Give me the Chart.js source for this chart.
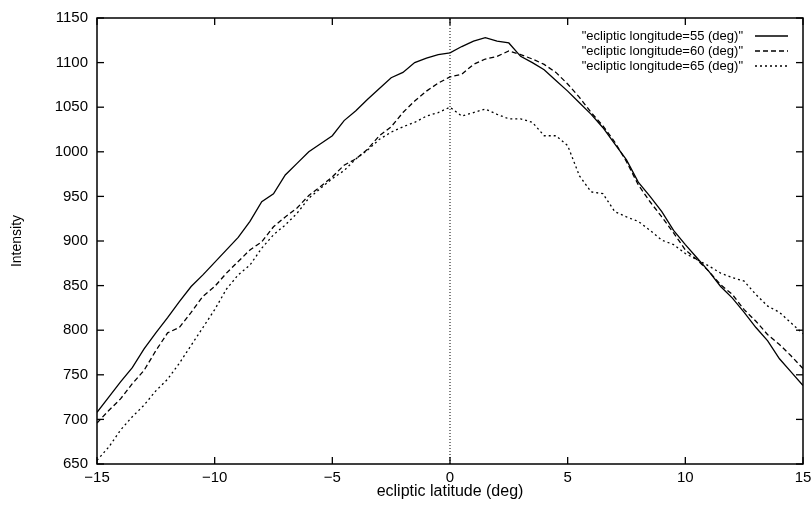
<!DOCTYPE html>
<html>
<head>
<meta charset="utf-8">
<script src="https://cdn.jsdelivr.net/npm/chart.js@4/dist/chart.umd.min.js"></script>
<style>
  html, body { margin: 0; padding: 0; background: #fff; }
  #chart { display: block; }
</style>
</head>
<body>
<canvas id="chart" width="812" height="505"></canvas>
<script>
// ecliptic latitude (deg), one sample every half degree
const latitude = [
  -15, -14.5, -14, -13.5, -13, -12.5, -12, -11.5, -11, -10.5,
  -10, -9.5, -9, -8.5, -8, -7.5, -7, -6.5, -6, -5.5,
  -5, -4.5, -4, -3.5, -3, -2.5, -2, -1.5, -1, -0.5,
  0, 0.5, 1, 1.5, 2, 2.5, 3, 3.5, 4, 4.5,
  5, 5.5, 6, 6.5, 7, 7.5, 8, 8.5, 9, 9.5,
  10, 10.5, 11, 11.5, 12, 12.5, 13, 13.5, 14, 14.5, 15
];

const lon55 = [
  708, 725, 742, 758, 779, 797, 814, 832, 849, 862,
  876, 890, 904, 922, 944, 953, 974, 987, 1000, 1009,
  1018, 1035, 1046, 1059, 1071, 1083, 1089, 1100, 1105, 1109,
  1111, 1118, 1124, 1128, 1124, 1122, 1107, 1100, 1092, 1080,
  1068, 1055, 1042, 1027, 1009, 991, 966, 950, 933, 912,
  896, 881, 866, 849, 836, 820, 803, 788, 768, 753, 738
];

const lon60 = [
  696, 710, 723, 740, 755, 777, 797, 803, 820, 838,
  849, 864, 877, 890, 899, 916, 927, 937, 951, 961,
  972, 985, 992, 1003, 1018, 1028, 1044, 1057, 1068, 1077,
  1084, 1087, 1098, 1104, 1107, 1113, 1109, 1104, 1098, 1089,
  1076, 1061, 1044, 1029, 1011, 989, 963, 944, 927, 909,
  890, 879, 866, 851, 840, 823, 810, 795, 784, 771, 757
];

const lon65 = [
  654, 669, 688, 703, 716, 732, 745, 763, 783, 803,
  823, 846, 862, 873, 892, 907, 918, 931, 948, 959,
  970, 979, 992, 1002, 1014, 1022, 1028, 1033, 1040, 1044,
  1050, 1040, 1044, 1048, 1042, 1037, 1037, 1033, 1018, 1018,
  1007, 973, 955, 953, 933, 927, 922, 912, 901, 896,
  886, 879, 872, 864, 859, 855, 840, 827, 820, 808, 796
];

const seriesNames = [
  '"ecliptic longitude=55 (deg)"',
  '"ecliptic longitude=60 (deg)"',
  '"ecliptic longitude=65 (deg)"'
];

// vertical dotted marker at latitude 0
const zeroLineX = [0, 0];
const zeroLineY = [650, 1150];

const xTicks = [-15, -10, -5, 0, 5, 10, 15];
const yTicks = [650, 700, 750, 800, 850, 900, 950, 1000, 1050, 1100, 1150];

const pts = (xs, ys) => xs.map((x, i) => ({ x: x, y: ys[i] }));
const dashes = [[], [5, 3], [2, 3]];
const FONT = '"Liberation Sans", Arial, sans-serif';

// gnuplot-like frame, inward mirrored ticks and key inside the plot
const gnuplotFrame = {
  id: 'gnuplotFrame',
  afterDatasetsDraw(chart) {
    const { ctx, chartArea: a, scales: { x, y } } = chart;
    const seg = (x1, y1, x2, y2) => { ctx.beginPath(); ctx.moveTo(x1, y1); ctx.lineTo(x2, y2); ctx.stroke(); };
    ctx.save();
    ctx.strokeStyle = '#000';
    ctx.lineWidth = 1.5;
    ctx.setLineDash([]);
    ctx.strokeRect(a.left, a.top, a.right - a.left, a.bottom - a.top);
    ctx.lineWidth = 1.3;
    x.ticks.forEach(t => {
      const px = x.getPixelForValue(t.value);
      seg(px, a.bottom, px, a.bottom - 7);
      seg(px, a.top, px, a.top + 7);
    });
    y.ticks.forEach(t => {
      const py = y.getPixelForValue(t.value);
      seg(a.left, py, a.left + 7, py);
      seg(a.right, py, a.right - 7, py);
    });

    // key
    ctx.font = '13px ' + FONT;
    ctx.fillStyle = '#000';
    ctx.textAlign = 'right';
    ctx.textBaseline = 'middle';
    seriesNames.forEach((name, i) => {
      const ky = a.top + 18 + i * 15;
      ctx.fillText(name, a.right - 60, ky);
      ctx.lineWidth = 1.3;
      ctx.setLineDash(dashes[i]);
      seg(a.right - 48, ky, a.right - 15, ky);
    });
    ctx.restore();
  }
};

const lineStyle = (label, data, dash) => ({
  label: label,
  data: data,
  borderColor: '#000',
  borderWidth: 1.3,
  borderDash: dash,
  pointRadius: 0,
  fill: false,
  tension: 0
});

new Chart(document.getElementById('chart'), {
  type: 'line',
  data: {
    datasets: [
      lineStyle(seriesNames[0], pts(latitude, lon55), dashes[0]),
      lineStyle(seriesNames[1], pts(latitude, lon60), dashes[1]),
      lineStyle(seriesNames[2], pts(latitude, lon65), dashes[2]),
      Object.assign(lineStyle('zero', pts(zeroLineX, zeroLineY), [1, 2]), { borderWidth: 1 })
    ]
  },
  options: {
    responsive: false,
    animation: false,
    devicePixelRatio: 1,
    layout: { padding: { top: 15, right: 9, left: 0, bottom: 0 } },
    plugins: {
      legend: { display: false },
      tooltip: { enabled: false }
    },
    scales: {
      x: {
        type: 'linear',
        min: -15,
        max: 15,
        afterBuildTicks: s => { s.ticks = xTicks.map(v => ({ value: v })); },
        afterFit: s => { s.height = 41; s.paddingLeft = 0; s.paddingRight = 0; },
        grid: { display: false, drawTicks: false },
        border: { display: false },
        ticks: {
          padding: 5,
          color: '#000',
          font: { family: FONT, size: 15 },
          callback: v => (v < 0 ? '\u2212' + Math.abs(v) : String(v))
        },
        title: {
          display: true,
          text: 'ecliptic latitude (deg)',
          color: '#000',
          font: { family: FONT, size: 16 },
          padding: { top: 0, bottom: 4 }
        }
      },
      y: {
        min: 650,
        max: 1150,
        afterBuildTicks: s => { s.ticks = yTicks.map(v => ({ value: v })); },
        afterFit: s => { s.width = 97; },
        grid: { display: false, drawTicks: false },
        border: { display: false },
        ticks: {
          padding: 9,
          color: '#000',
          font: { family: FONT, size: 15 },
          callback: v => String(v)
        },
        title: {
          display: true,
          text: 'Intensity',
          color: '#000',
          font: { family: FONT, size: 14 },
          padding: { top: 9, bottom: 0 }
        }
      }
    }
  },
  plugins: [gnuplotFrame]
});
</script>
</body>
</html>
